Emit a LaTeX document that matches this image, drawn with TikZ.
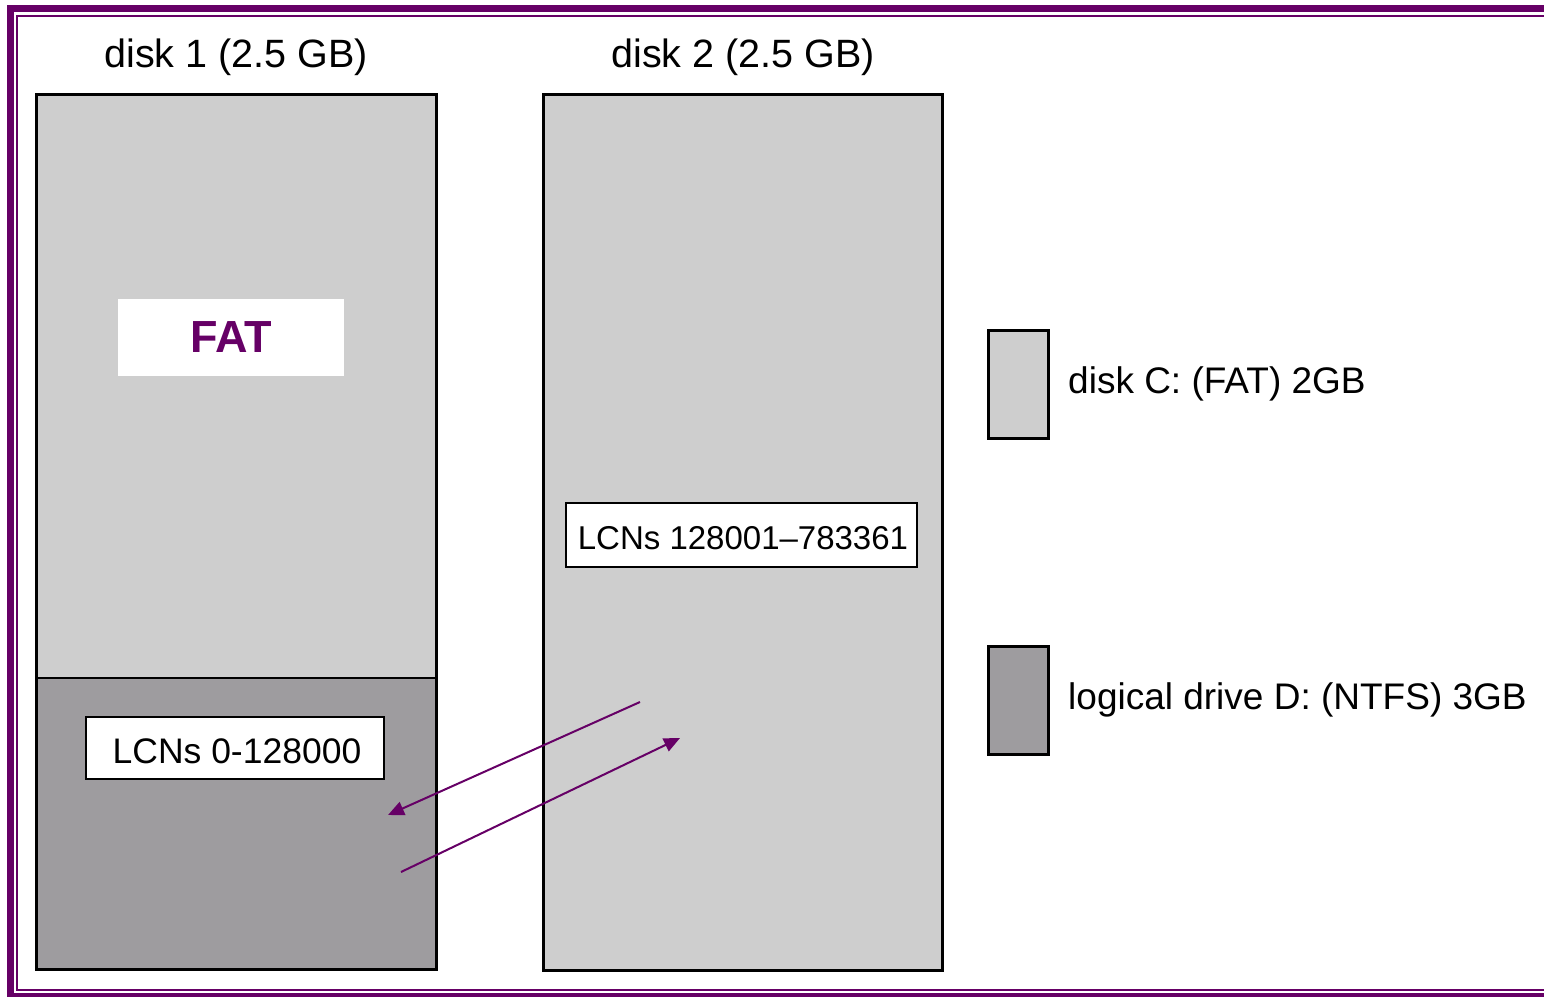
\documentclass[tikz,border=0pt]{standalone}
\usepackage{fontspec}
\setmainfont{Liberation Sans}
\usetikzlibrary{arrows.meta}
\definecolor{plum}{HTML}{660066}
\definecolor{lightdisk}{HTML}{CECECE}
\definecolor{darkdisk}{HTML}{9E9C9F}
\tikzset{
  diskbox/.style={draw=black, line width=3pt},
  labelbox/.style={draw=black, line width=2.5pt, fill=white, inner sep=0pt},
  caption/.style={font=\fontsize{39.5}{44}\selectfont, inner sep=0pt},
  legendtext/.style={font=\fontsize{37}{42}\selectfont, anchor=west, inner sep=0pt},
  flow/.style={draw=plum, line width=2pt, -{Triangle[length=16pt,width=14pt]}}
}
\begin{document}
\begin{tikzpicture}[x=1pt,y=-1pt]
\useasboundingbox (0,0) rectangle (1544,996);
\begin{scope}
\clip (0,0) rectangle (1544,996);
% double frame, open on the right
\draw[plum, line width=7pt] (10.5,8.5) rectangle (1580,996.5);
\draw[plum, line width=2pt] (17,16) rectangle (1580,990);
\end{scope}

% disk 1: FAT part above, NTFS part below
\fill[lightdisk] (36,94) rectangle (436,678);
\fill[darkdisk] (36,678) rectangle (436,969);
\draw[black, line width=2.5pt] (36,678) -- (436,678);
\node[diskbox, minimum width=400pt, minimum height=875pt, inner sep=0pt] (disk1) at (236,531.5) {};

% disk 2
\node[diskbox, fill=lightdisk, minimum width=399pt, minimum height=876pt, inner sep=0pt] (disk2) at (742.5,532) {};

\node[caption] (t1) at (236,57) {disk 1 (2.5 GB)};
\node[caption] (t2) at (743,57) {disk 2 (2.5 GB)};

\node[fill=white, minimum width=226pt, minimum height=77pt, inner sep=0pt,
  text=plum, font=\fontsize{45}{50}\selectfont\bfseries] (fat) at (231,337.5) {FAT};

\node[labelbox, minimum width=298pt, minimum height=62pt] (lcn1) at (235,748) {};
\node[font=\fontsize{35.5}{40}\selectfont, inner sep=0pt] (lcn1text) at (237,751) {LCNs 0-128000};
\node[labelbox, minimum width=351pt, minimum height=64pt] (lcn2) at (741.5,535) {};
\node[font=\fontsize{33}{38}\selectfont, inner sep=0pt] (lcn2text) at (743,538) {LCNs 128001–783361};

% legend
\node[diskbox, fill=lightdisk, minimum width=60pt, minimum height=108pt, inner sep=0pt] (legc) at (1018,384) {};
\node[diskbox, fill=darkdisk, minimum width=60pt, minimum height=108pt, inner sep=0pt] (legd) at (1018,700) {};
\node[legendtext] (legctext) at (1068,384) {disk C: (FAT) 2GB};
\node[legendtext] (legdtext) at (1068,700) {logical drive D: (NTFS) 3GB};

% volume set links between the two disks
\coordinate (a1s) at (640,702);
\coordinate (a1e) at (388,815);
\coordinate (a2s) at (401,872);
\coordinate (a2e) at (680,738);
\draw[flow] (a1s) -- (a1e);
\draw[flow] (a2s) -- (a2e);
\end{tikzpicture}
\end{document}
